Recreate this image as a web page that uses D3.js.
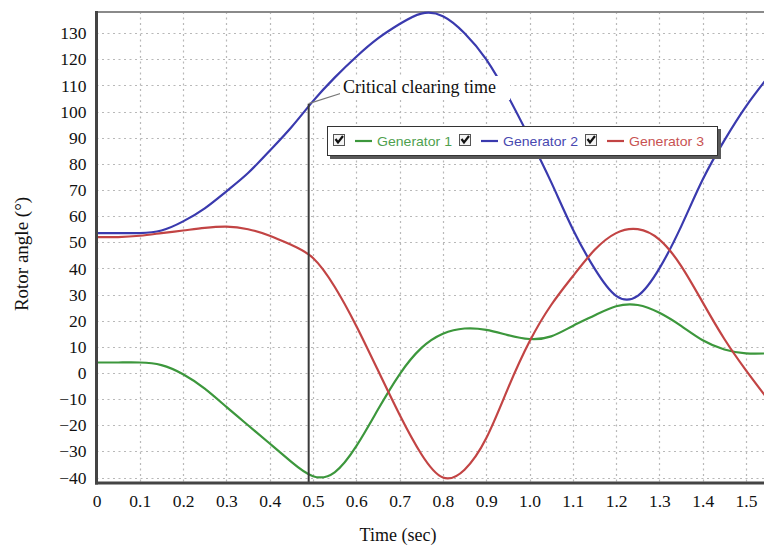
<!DOCTYPE html>
<html>
<head>
<meta charset="utf-8">
<script src="https://cdn.jsdelivr.net/npm/d3@7"></script>
<style>
  body { margin: 0; background: #fff; }
  svg { display: block; }
</style>
</head>
<body>
<svg id="chart" width="764" height="554"></svg>
<script>
// Simulation time samples (s)
const timeSec = [0, 0.05, 0.1, 0.15, 0.2, 0.25, 0.3, 0.35, 0.4, 0.45, 0.5, 0.55, 0.6, 0.65, 0.7, 0.75,
                 0.8, 0.85, 0.9, 0.95, 1.0, 1.05, 1.1, 1.15, 1.2, 1.25, 1.3, 1.35, 1.4, 1.45, 1.5, 1.55];

// Rotor angles (degrees) of each generator
const generator1 = [4, 4, 4, 3, -0.5, -6, -13, -20, -27, -34, -39.5, -38, -28, -14, -0.5, 9.5,
                    15, 17, 16.5, 14.5, 13, 14, 18, 22, 25.5, 26, 23, 18, 12.5, 9, 7.5, 7.5];
const generator2 = [53.5, 53.5, 53.5, 54.5, 58, 63, 69.5, 76.5, 85, 94, 104, 113, 121, 128, 133.5, 137.5,
                    136.5, 130, 120, 106, 90, 73, 55, 40, 29.5, 29.5, 40, 56, 74, 89, 102, 113];
const generator3 = [52, 52, 52.5, 53.5, 54.5, 55.5, 56, 55, 52.5, 49, 44, 33, 18, 1, -16, -31,
                    -40, -37, -25, -6, 12, 26, 37, 47, 53.5, 55, 51, 41, 27, 13, 1, -10];

const seriesNames = ["Generator 1", "Generator 2", "Generator 3"];
const seriesValues = [generator1, generator2, generator3];
const seriesColors = ["#3c973c", "#3a3aae", "#c24444"];
const legendTextColors = ["#4f9f4f", "#4848b0", "#c85252"];

const xTicks = [0, 0.1, 0.2, 0.3, 0.4, 0.5, 0.6, 0.7, 0.8, 0.9, 1.0, 1.1, 1.2, 1.3, 1.4, 1.5];
const yTicks = [-40, -30, -20, -10, 0, 10, 20, 30, 40, 50, 60, 70, 80, 90, 100, 110, 120, 130];

// Fault clearing instant and the generator 2 angle at that instant
const clearingTime = 0.49;
const clearingAngle = 103;
const clearingLabel = "Critical clearing time";

const xTitle = "Time (sec)";
const yTitle = "Rotor angle (°)";

const W = 764, H = 554;
const plot = { left: 96.5, right: 765.5, top: 12, bottom: 483 };
const serif = "Liberation Serif, Times New Roman, serif";

const svg = d3.select("#chart");
svg.append("rect").attr("width", W).attr("height", H).attr("fill", "#fff");

const x = d3.scaleLinear().domain([0, 1.545]).range([plot.left, plot.right]);
const y = d3.scaleLinear().domain([-42.1, 138.1]).range([plot.bottom, plot.top]);

svg.append("clipPath").attr("id", "plotClip")
  .append("rect")
  .attr("x", plot.left).attr("y", plot.top - 2)
  .attr("width", W - plot.left).attr("height", plot.bottom - plot.top + 2);

// Dotted grid
const grid = svg.append("g").attr("stroke", "#b8b8b8").attr("stroke-width", 1.2)
  .attr("stroke-dasharray", "2,3.5");
grid.selectAll(".gx").data(xTicks.filter(d => d > 0)).join("line")
  .attr("x1", d => Math.round(x(d)) + 0.5).attr("x2", d => Math.round(x(d)) + 0.5)
  .attr("y1", plot.top).attr("y2", plot.bottom);
grid.selectAll(".gy").data(yTicks).join("line")
  .attr("x1", plot.left).attr("x2", W)
  .attr("y1", d => Math.round(y(d)) + 0.5).attr("y2", d => Math.round(y(d)) + 0.5);

// Plot frame
svg.append("line").attr("x1", plot.left).attr("x2", W).attr("y1", plot.top).attr("y2", plot.top)
  .attr("stroke", "#8a8a8a").attr("stroke-width", 2);

// Series
const line = d3.line()
  .x((d, i) => x(timeSec[i]))
  .y(d => y(d))
  .curve(d3.curveNatural);

const series = svg.append("g").attr("clip-path", "url(#plotClip)");
series.selectAll("path").data(seriesValues).join("path")
  .attr("d", d => line(d))
  .attr("fill", "none")
  .attr("stroke", (d, i) => seriesColors[i])
  .attr("stroke-width", 2.2)
  .attr("stroke-linejoin", "round");

// Critical clearing time marker
const cx = x(clearingTime), cy = y(clearingAngle);
svg.append("line").attr("x1", cx).attr("x2", cx).attr("y1", cy).attr("y2", plot.bottom)
  .attr("stroke", "#3a3a3a").attr("stroke-width", 2);
svg.append("line").attr("x1", cx).attr("y1", cy).attr("x2", 342).attr("y2", 93)
  .attr("stroke", "#777").attr("stroke-width", 1.3);
svg.append("rect").attr("x", 340).attr("y", 76).attr("width", 170).attr("height", 24).attr("fill", "#fff");
svg.append("text").attr("x", 343).attr("y", 93)
  .attr("font-family", serif).attr("font-size", 18)
  .attr("fill", "#111").text(clearingLabel);

// Axes lines
svg.append("line").attr("x1", plot.left).attr("x2", plot.left).attr("y1", plot.top - 1).attr("y2", plot.bottom + 1.5)
  .attr("stroke", "#444").attr("stroke-width", 3);
svg.append("line").attr("x1", plot.left - 1.5).attr("x2", W).attr("y1", plot.bottom).attr("y2", plot.bottom)
  .attr("stroke", "#444").attr("stroke-width", 3);

// Tick labels
const xAxis = d3.axisBottom(x).tickValues(xTicks).tickSize(0).tickPadding(12)
  .tickFormat(d => d === 0 ? "0" : d3.format(".1f")(d));
const gx = svg.append("g").attr("transform", `translate(0,${plot.bottom})`).call(xAxis);
gx.select(".domain").remove();
gx.selectAll("text").attr("font-family", serif).attr("font-size", 17.5).attr("fill", "#111");

const yAxis = d3.axisLeft(y).tickValues(yTicks).tickSize(0).tickPadding(10);
const gy = svg.append("g").attr("transform", `translate(${plot.left},0)`).call(yAxis);
gy.select(".domain").remove();
gy.selectAll("text").attr("font-family", serif).attr("font-size", 17.5).attr("fill", "#111");

// Axis titles
svg.append("text").attr("x", 398).attr("y", 541).attr("text-anchor", "middle")
  .attr("font-family", serif).attr("font-size", 18)
  .attr("fill", "#111").text(xTitle);
svg.append("text").attr("transform", "translate(28,254) rotate(-90)").attr("text-anchor", "middle")
  .attr("font-family", serif).attr("font-size", 19)
  .attr("fill", "#111").text(yTitle);

// Legend
const legend = svg.append("g").attr("transform", "translate(327,126)");
legend.append("rect").attr("x", 3).attr("y", 3).attr("width", 391).attr("height", 30).attr("fill", "#5a5a5a");
legend.append("rect").attr("x", 0.5).attr("y", 0.5).attr("width", 390).attr("height", 29)
  .attr("fill", "#fff").attr("stroke", "#333").attr("stroke-width", 1);

const items = legend.selectAll(".item").data(seriesNames).join("g")
  .attr("transform", (d, i) => `translate(${6 + i * 126},0)`);
items.append("rect").attr("x", 0.5).attr("y", 8.5).attr("width", 11).attr("height", 11)
  .attr("fill", "#f4f4f4").attr("stroke", "#555");
items.append("path").attr("d", "M2.5,13 L5,16.5 L10,10").attr("fill", "none")
  .attr("stroke", "#111").attr("stroke-width", 2.2);
items.append("line").attr("x1", 22).attr("x2", 39).attr("y1", 15).attr("y2", 15)
  .attr("stroke", (d, i) => seriesColors[i]).attr("stroke-width", 2.2);
items.append("text").attr("x", 44).attr("y", 19.5)
  .attr("font-family", "Liberation Sans, Arial, sans-serif").attr("font-size", 13.5)
  .attr("textLength", 75).attr("lengthAdjust", "spacingAndGlyphs")
  .attr("fill", (d, i) => legendTextColors[i]).text(d => d);
</script>
</body>
</html>
